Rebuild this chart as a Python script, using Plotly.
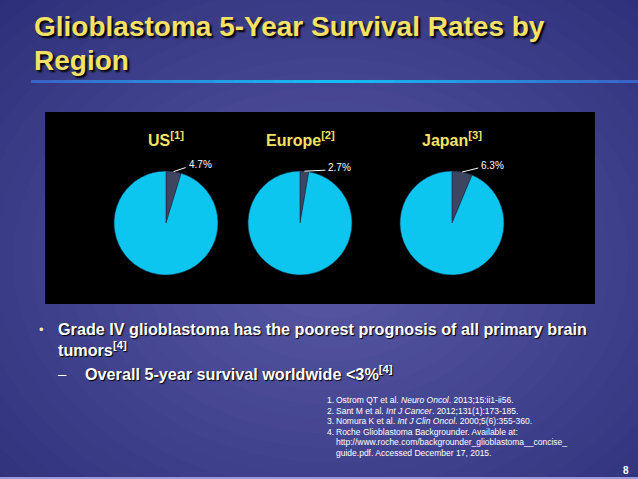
import math
import plotly.graph_objects as go

# ---------------- data ----------------
regions = ["US", "Europe", "Japan"]
region_refs = ["[1]", "[2]", "[3]"]
survival_pct = [4.7, 2.7, 6.3]

title_lines = ["Glioblastoma 5-Year Survival Rates by", "Region"]
bullet_1 = "Grade IV glioblastoma has the poorest prognosis of all primary brain"
bullet_1b = "tumors<sup>[4]</sup>"
sub_bullet = "Overall 5-year survival worldwide &lt;3%<sup>[4]</sup>"
references = [
    ("1.", "Ostrom QT et al. <i>Neuro Oncol</i>. 2013;15:ii1-ii56."),
    ("2.", "Sant M et al. <i>Int J Cancer</i>. 2012;131(1):173-185."),
    ("3.", "Nomura K et al. <i>Int J Clin Oncol</i>. 2000;5(6):355-360."),
    ("4.", "Roche Glioblastoma Backgrounder. Available at:"),
    ("", "http://www.roche.com/backgrounder_glioblastoma__concise_"),
    ("", "guide.pdf. Accessed December 17, 2015."),
]
page_number = "8"

# ---------------- layout / style ----------------
W, H = 638, 479
FONT = "Liberation Sans, Arial, sans-serif"
YELLOW = "#f5e265"
CYAN = "#0cc6f0"
DARK = "#3e4560"
pie_centers_x = [166, 300, 452]
pie_cy = 223
pie_r = 52
leader_dx = [12, 21, 16]      # horizontal length of label leader lines (px)
leader_dy = [-4, -1, -4]      # vertical rise of label leader lines (px)


def px(x):
    return x / W


def py(y):
    return 1 - y / H


def lerp_hex(c1, c2, t):
    a = [int(c1[i:i + 2], 16) for i in (1, 3, 5)]
    b = [int(c2[i:i + 2], 16) for i in (1, 3, 5)]
    return "#" + "".join(f"{round(a[k] + (b[k] - a[k]) * t):02x}" for k in range(3))


shapes = []
annotations = []

# background radial gradient (concentric ellipses)
bg_cx, bg_cy = 330, 260
n = 40
for i in range(n):
    t = i / (n - 1)
    rx = 720 * (1 - t) + 40
    ry = 560 * (1 - t) + 30
    col = lerp_hex("#0c0f58", "#5656a2", t ** 0.85)
    shapes.append(dict(type="circle", xref="paper", yref="paper",
                       x0=px(bg_cx - rx), x1=px(bg_cx + rx),
                       y0=py(bg_cy + ry), y1=py(bg_cy - ry),
                       fillcolor=col, line=dict(width=0), layer="below"))

# title underline with horizontal gradient
seg = 30
x_start, x_end = 31, 638
for i in range(seg):
    xa = x_start + (x_end - x_start) * i / seg
    xb = x_start + (x_end - x_start) * (i + 1) / seg
    t = 1 - abs((i + 0.5) / seg - 0.5) * 2
    col = lerp_hex("#3a62c8", "#15c0f5", t)
    shapes.append(dict(type="rect", xref="paper", yref="paper",
                       x0=px(xa), x1=px(xb) + 0.001, y0=py(83), y1=py(80),
                       fillcolor=col, line=dict(width=0), layer="below"))

# black chart box
shapes.append(dict(type="rect", xref="paper", yref="paper",
                   x0=px(45), x1=px(595), y0=py(304), y1=py(112),
                   fillcolor="#000000", line=dict(width=0), layer="below"))

# bottom light line
shapes.append(dict(type="rect", xref="paper", yref="paper",
                   x0=0, x1=1, y0=py(479), y1=py(477),
                   fillcolor="#9a9ad8", line=dict(width=0), layer="below"))

fig = go.Figure()

for name, ref, val, cx, ldx, ldy in zip(regions, region_refs, survival_pct,
                                        pie_centers_x, leader_dx, leader_dy):
    fig.add_trace(go.Pie(
        values=[val, 100 - val],
        labels=[f"{name} 5-year survival", f"{name} other"],
        sort=False, direction="clockwise", rotation=0,
        marker=dict(colors=[DARK, CYAN], line=dict(color="#1a2a40", width=0.6)),
        textinfo="none", hoverinfo="label+percent", showlegend=False,
        domain=dict(x=[px(cx - pie_r), px(cx + pie_r)],
                    y=[py(pie_cy + pie_r), py(pie_cy - pie_r)]),
    ))
    # region heading
    annotations.append(dict(x=px(cx), y=py(139), xref="paper", yref="paper",
                            text=f"<b>{name}<sup>{ref}</sup></b>", showarrow=False,
                            font=dict(family=FONT, size=16, color=YELLOW),
                            xanchor="center", yanchor="middle"))
    # percentage label with leader line computed from slice angle
    mid = math.radians(val / 100 * 360 / 2)
    ex = cx + pie_r * math.sin(mid)
    ey = pie_cy - pie_r * math.cos(mid)
    lx, ly = ex + ldx, ey + ldy
    shapes.append(dict(type="line", xref="paper", yref="paper",
                       x0=px(ex), y0=py(ey), x1=px(lx), y1=py(ly),
                       line=dict(color="#ffffff", width=1), layer="above"))
    annotations.append(dict(x=px(lx + 1), y=py(ly - 3), xref="paper", yref="paper",
                            text=f"{val}%", showarrow=False,
                            font=dict(family=FONT, size=10, color="#ffffff"),
                            xanchor="left", yanchor="middle"))

shadow_big = "2px 2px 2px #000000"
shadow_small = "1px 1px 1px #000000"

# title
for i, line in enumerate(title_lines):
    annotations.append(dict(x=px(32), y=py(27 + i * 34), xref="paper", yref="paper",
                            text=f"<b>{line}</b>", showarrow=False,
                            font=dict(family=FONT, size=28, color=YELLOW, shadow=shadow_big),
                            xanchor="left", yanchor="middle"))

# bullets
annotations.append(dict(x=px(37), y=py(329), xref="paper", yref="paper", text="•",
                        showarrow=False, font=dict(family=FONT, size=13, color="#f2eeb0"),
                        xanchor="left", yanchor="middle"))
annotations.append(dict(x=px(56), y=py(329), xref="paper", yref="paper",
                        text=f"<b>{bullet_1}</b>", showarrow=False,
                        font=dict(family=FONT, size=16.2, color="#ffffff", shadow=shadow_small),
                        xanchor="left", yanchor="middle"))
annotations.append(dict(x=px(56), y=py(349), xref="paper", yref="paper",
                        text=f"<b>{bullet_1b}</b>", showarrow=False,
                        font=dict(family=FONT, size=16.2, color="#ffffff", shadow=shadow_small),
                        xanchor="left", yanchor="middle"))
annotations.append(dict(x=px(56), y=py(373), xref="paper", yref="paper", text="–",
                        showarrow=False, font=dict(family=FONT, size=15, color="#ffffff"),
                        xanchor="left", yanchor="middle"))
annotations.append(dict(x=px(83), y=py(373), xref="paper", yref="paper",
                        text=f"<b>{sub_bullet}</b>", showarrow=False,
                        font=dict(family=FONT, size=16.2, color="#ffffff", shadow=shadow_small),
                        xanchor="left", yanchor="middle"))

# references
for i, (num, txt) in enumerate(references):
    yy = 400 + i * 10.6
    if num:
        annotations.append(dict(x=px(325), y=py(yy), xref="paper", yref="paper",
                                text=num, showarrow=False,
                                font=dict(family=FONT, size=8.5, color="#ffffff"),
                                xanchor="left", yanchor="middle"))
    annotations.append(dict(x=px(334), y=py(yy), xref="paper", yref="paper",
                            text=txt, showarrow=False,
                            font=dict(family=FONT, size=8.5, color="#ffffff"),
                            xanchor="left", yanchor="middle"))

annotations.append(dict(x=px(631), y=py(470), xref="paper", yref="paper",
                        text=f"<b>{page_number}</b>", showarrow=False,
                        font=dict(family=FONT, size=10, color="#ffffff"),
                        xanchor="right", yanchor="middle"))

fig.update_layout(
    width=W, height=H,
    margin=dict(l=0, r=0, t=0, b=0),
    paper_bgcolor="#1a1c68",
    plot_bgcolor="rgba(0,0,0,0)",
    shapes=shapes,
    annotations=annotations,
)

fig.write_html("out.html", config={"displayModeBar": False},
               post_script="document.body.style.margin='0';document.body.style.overflow='hidden';")
